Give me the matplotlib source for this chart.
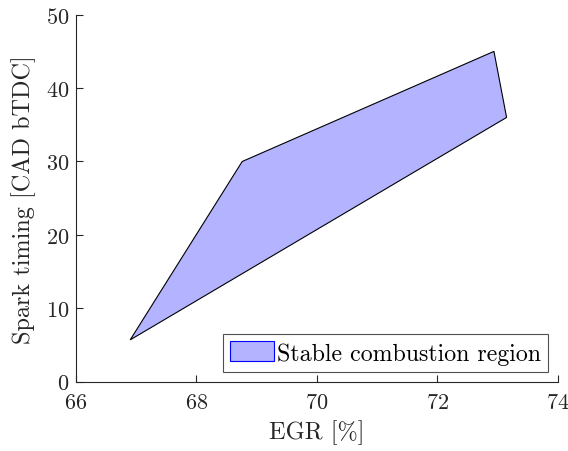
import matplotlib
matplotlib.use("Agg")
import matplotlib.pyplot as plt

egr = [66.90, 68.76, 72.94, 73.15]
spark = [5.7, 30.0, 45.0, 36.0]
xticks = [66, 68, 70, 72, 74]
yticks = [0, 10, 20, 30, 40, 50]

plt.rcParams['font.family'] = 'serif'
plt.rcParams['font.serif'] = ['cmr10']
plt.rcParams['mathtext.fontset'] = 'cm'
plt.rcParams['axes.formatter.use_mathtext'] = True
plt.rcParams['font.size'] = 16

fig = plt.figure(figsize=(5.68, 4.52), dpi=100)
ax = fig.add_axes([0.1338, 0.1533, 0.982 - 0.1338, 0.9653 - 0.1533])

ax.fill(egr, spark, facecolor=(0.7, 0.7, 1.0), edgecolor='black', linewidth=0.8,
        label='Stable combustion region')

ax.set_xlim(66, 74)
ax.set_ylim(0, 50)
ax.set_xticks(xticks)
ax.set_yticks(yticks)
ax.spines['top'].set_visible(False)
ax.spines['right'].set_visible(False)
for s in ['left', 'bottom']:
    ax.spines[s].set_color('#262626')
    ax.spines[s].set_linewidth(0.8)
ax.tick_params(direction='in', length=5, width=0.8, color='#262626', labelcolor='#262626', labelsize=16)
ax.tick_params(axis='x', pad=8)
ax.tick_params(axis='y', pad=5)
ax.set_xlabel('EGR [%]', color='#262626', labelpad=5, fontsize=17.5)
ax.set_ylabel('Spark timing [CAD bTDC]', color='#262626', labelpad=7, fontsize=17.5)

leg = ax.legend(loc='lower right', frameon=True, fancybox=False, borderpad=0.3,
                handlelength=1.85, handleheight=0.9, handletextpad=0.1, borderaxespad=0.42,
                fontsize=17.2)
leg.get_frame().set_edgecolor('#262626')
leg.get_frame().set_linewidth(0.8)
leg.legend_handles[0].set_edgecolor('blue')

fig.savefig('out.png', dpi=100)
